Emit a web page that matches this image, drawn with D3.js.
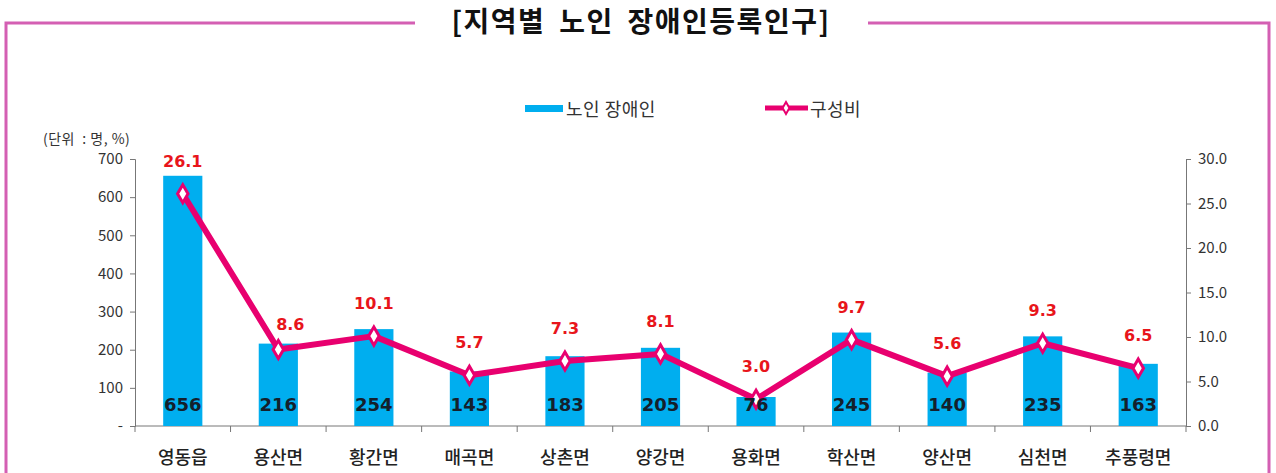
<!DOCTYPE html>
<html>
<head>
<meta charset="utf-8">
<script src="https://cdn.jsdelivr.net/npm/d3@7"></script>
<style>
  body { margin: 0; background: #fff; }
  svg text { font-family: "Noto Sans CJK KR", "Noto Sans", sans-serif; }
  svg text.num { font-family: "DejaVu Sans", sans-serif; font-weight: bold; }
</style>
</head>
<body>
<div id="chart"></div>
<script>
// 데이터
var categories = ["영동읍", "용산면", "황간면", "매곡면", "상촌면", "양강면", "용화면", "학산면", "양산면", "심천면", "추풍령면"];
var disabled = [656, 216, 254, 143, 183, 205, 76, 245, 140, 235, 163];
var ratio = [26.1, 8.6, 10.1, 5.7, 7.3, 8.1, 3.0, 9.7, 5.6, 9.3, 6.5];
var leftTicks = [0, 100, 200, 300, 400, 500, 600, 700];
var rightTicks = [0, 5, 10, 15, 20, 25, 30];

var W = 1276, H = 473;
var margin = { top: 159, right: 90, bottom: 47, left: 135 };
var width = W - margin.left - margin.right,
    height = H - margin.top - margin.bottom;

var barColor = "#00aeef", lineColor = "#e8006f", frameColor = "#d45fb3";

var svg = d3.select("#chart").append("svg")
    .attr("width", W)
    .attr("height", H);

// 테두리 + 제목
svg.append("path")
    .attr("d", "M6,473 V23 H415 M868,23 H1269 V473")
    .attr("fill", "none")
    .attr("stroke", frameColor)
    .attr("stroke-width", 3);

svg.append("text")
    .attr("x", 641)
    .attr("y", 32)
    .attr("text-anchor", "middle")
    .style("font-size", "28px")
    .style("font-weight", "bold")
    .style("letter-spacing", "1.5px")
    .style("word-spacing", "6px")
    .attr("fill", "#111")
    .text("[지역별 노인 장애인등록인구]");

svg.append("text")
    .attr("x", 43)
    .attr("y", 144)
    .style("font-size", "14px")
    .style("letter-spacing", "0.5px")
    .style("white-space", "pre")
    .attr("fill", "#333")
    .text("(단위  : 명, %)");

// 범례
svg.append("rect").attr("x", 525).attr("y", 105).attr("width", 38).attr("height", 7).attr("fill", barColor);
svg.append("text").attr("x", 566).attr("y", 116).style("font-size", "18px").style("letter-spacing", "0.5px")
    .attr("fill", "#333").text("노인 장애인");
svg.append("line").attr("x1", 765).attr("x2", 808).attr("y1", 108).attr("y2", 108)
    .attr("stroke", lineColor).attr("stroke-width", 5);
svg.append("path").attr("d", d3.symbol(d3.symbolDiamond, 40)())
    .attr("transform", "translate(786,108)")
    .attr("fill", "#fff").attr("stroke", lineColor).attr("stroke-width", 2);
svg.append("text").attr("x", 810).attr("y", 116).style("font-size", "18px").style("letter-spacing", "0.5px")
    .attr("fill", "#333").text("구성비");

var g = svg.append("g")
    .attr("transform", "translate(" + margin.left + "," + margin.top + ")");

// 스케일
var x = d3.scaleBand().domain(categories).range([0, width]).padding(0);
var y = d3.scaleLinear().domain([0, 700]).range([height, 0]);
var y2 = d3.scaleLinear().domain([0, 30]).range([height, 0]);
var barW = x.bandwidth() * 0.41;
var cx = function(i) { return x(categories[i]) + x.bandwidth() / 2; };

// 축
var yAxis = g.append("g")
    .call(d3.axisLeft(y).tickValues(leftTicks).tickSize(5).tickPadding(7)
        .tickFormat(function(d) { return d === 0 ? "-" : d; }));
var y2Axis = g.append("g")
    .attr("transform", "translate(" + width + ",0)")
    .call(d3.axisRight(y2).tickValues(rightTicks).tickSize(5).tickPadding(7)
        .tickFormat(d3.format(".1f")));
[yAxis, y2Axis].forEach(function(a) {
    a.select(".domain").attr("stroke", "#777");
    a.selectAll(".tick line").attr("stroke", "#777");
    a.selectAll("text").style("font-size", "15px").attr("fill", "#333");
});

var xAxis = g.append("g").attr("transform", "translate(0," + height + ")");
xAxis.append("line").attr("x1", 0).attr("x2", width).attr("stroke", "#777");
xAxis.selectAll(".xt")
    .data(d3.range(categories.length + 1))
    .enter().append("line")
    .attr("x1", function(i) { return i * x.step(); })
    .attr("x2", function(i) { return i * x.step(); })
    .attr("y1", 0).attr("y2", 6)
    .attr("stroke", "#777");
xAxis.selectAll(".xl")
    .data(categories)
    .enter().append("text")
    .attr("x", function(d, i) { return cx(i); })
    .attr("y", 38)
    .attr("text-anchor", "middle")
    .style("font-size", "18px")
    .style("font-weight", "500")
    .attr("fill", "#222")
    .text(function(d) { return d; });

// 막대
g.selectAll(".bar")
    .data(disabled)
    .enter().append("rect")
    .attr("x", function(d, i) { return cx(i) - barW / 2; })
    .attr("width", barW)
    .attr("y", function(d) { return y(d); })
    .attr("height", function(d) { return height - y(d); })
    .attr("fill", barColor);

// 꺾은선
var line = d3.line()
    .x(function(d, i) { return cx(i); })
    .y(function(d) { return y2(d); });

g.append("path")
    .datum(ratio)
    .attr("d", line)
    .attr("fill", "none")
    .attr("stroke", lineColor)
    .attr("stroke-width", 6)
    .attr("stroke-linejoin", "round");

g.selectAll(".pt")
    .data(ratio)
    .enter().append("path")
    .attr("d", d3.symbol(d3.symbolDiamond, 95)())
    .attr("transform", function(d, i) { return "translate(" + cx(i) + "," + y2(d) + ")"; })
    .attr("fill", "#fff")
    .attr("stroke", lineColor)
    .attr("stroke-width", 3);

// 용산면 라벨은 선과 겹쳐서 살짝 옮김
var nudge = { 1: [12, 8] };
g.selectAll(".ptlabel")
    .data(ratio)
    .enter().append("text")
    .attr("class", "num")
    .attr("x", function(d, i) { return cx(i) + (nudge[i] ? nudge[i][0] : 0); })
    .attr("y", function(d, i) { return y2(d) - 27 + (nudge[i] ? nudge[i][1] : 0); })
    .attr("text-anchor", "middle")
    .style("font-size", "16px")
    .attr("fill", "#e8151b")
    .text(function(d) { return d.toFixed(1); });

// 막대 값 (마커 위에 그림)
g.selectAll(".barlabel")
    .data(disabled)
    .enter().append("text")
    .attr("class", "num")
    .attr("x", function(d, i) { return cx(i); })
    .attr("y", height - 15)
    .attr("text-anchor", "middle")
    .style("font-size", "18px")
    .attr("fill", "#14202c")
    .text(function(d) { return d; });
</script>
</body>
</html>
